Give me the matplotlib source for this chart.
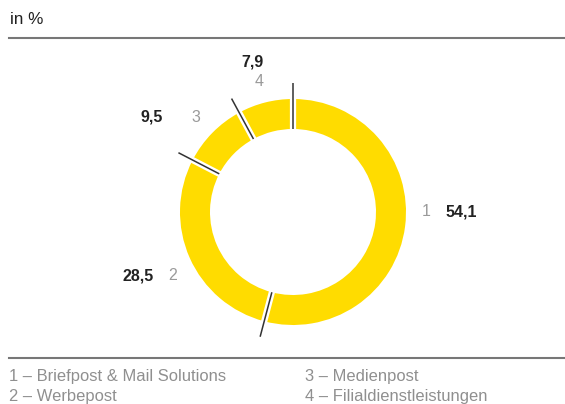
import numpy as np
import matplotlib.pyplot as plt

plt.rcParams['font.family'] = ['Liberation Sans', 'DejaVu Sans']

# Data
nummern = ["1", "2", "3", "4"]
werte = [54.1, 28.5, 9.5, 7.9]
werte_text = ["54,1", "28,5", "9,5", "7,9"]
legende = ["1 – Briefpost & Mail Solutions", "2 – Werbepost",
           "3 – Medienpost", "4 – Filialdienstleistungen"]

W, H = 565, 404
fig = plt.figure(figsize=(W / 100, H / 100), dpi=100)
ax = fig.add_axes([0, 0, 1, 1])

gelb = "#FFDC00"
cx, cy, r = 293, H - 212, 113
breite = 30

ax.pie(werte, colors=[gelb] * 4, startangle=90, counterclock=False,
       center=(cx, cy), radius=r, frame=True,
       wedgeprops=dict(width=breite, edgecolor="none", linewidth=0))
ax.set_xlim(0, W)
ax.set_ylim(0, H)
ax.set_aspect("auto")
ax.axis("off")

# white gaps and dark separator lines at the slice boundaries
grenzen = 90 - 360 * np.cumsum([0] + werte[:-1]) / sum(werte)
for g in grenzen:
    a = np.deg2rad(g)
    ax.plot([cx + (r - breite - 2) * np.cos(a), cx + (r + 2) * np.cos(a)],
            [cy + (r - breite - 2) * np.sin(a), cy + (r + 2) * np.sin(a)],
            color="white", lw=4.5, solid_capstyle="butt")
    r0, r1 = r - breite, r + 16
    ax.plot([cx + r0 * np.cos(a), cx + r1 * np.cos(a)],
            [cy + r0 * np.sin(a), cy + r1 * np.sin(a)],
            color="#333333", lw=1.1, solid_capstyle="butt")

# labels (pixel positions, y from top)
pos_wert = [(461, 212), (138, 276), (152, 117), (253, 62)]
pos_nr = [(426, 212), (173, 276), (196, 117), (259, 81)]
for (xw, yw), (xn, yn), t, n in zip(pos_wert, pos_nr, werte_text, nummern):
    ax.text(xw, H - yw, t, fontsize=11.5, fontweight="bold", color="#222222",
            ha="center", va="center")
    ax.text(xn, H - yn, n, fontsize=11.5, color="#9a9a9a",
            ha="center", va="center")

# header and rules
ax.text(9.5, H - 20, "in %", fontsize=12.3, color="#222222", va="center")
ax.plot([9, W], [H - 37.5, H - 37.5], color="#777777", lw=1.5)
ax.plot([9, W], [H - 357.5, H - 357.5], color="#777777", lw=1.5)

# legend
pos_leg = [(9, 377), (9, 397), (305, 377), (305, 397)]
for (x, y), t in zip(pos_leg, legende):
    ax.text(x, H - y, t, fontsize=11.9, color="#8f8f8f", va="center")

fig.savefig("out.png", dpi=100)
